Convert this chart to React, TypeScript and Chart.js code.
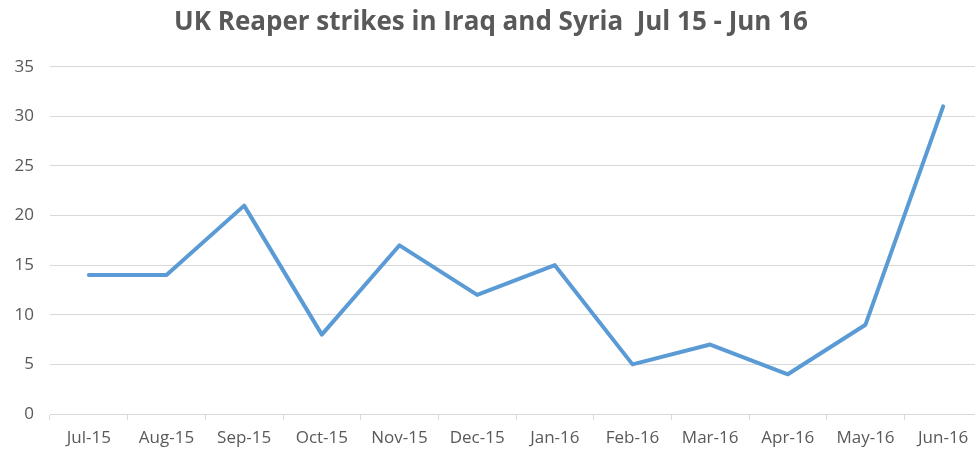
import React, { useEffect, useRef } from "react";
import { Chart, registerables } from "chart.js";

Chart.register(...registerables);

const categories = [
  "Jul-15", "Aug-15", "Sep-15", "Oct-15", "Nov-15", "Dec-15",
  "Jan-16", "Feb-16", "Mar-16", "Apr-16", "May-16", "Jun-16",
];
const strikes = [14, 14, 21, 8, 17, 12, 15, 5, 7, 4, 9, 31];
const yMin = 0;
const yMax = 35;
const yStep = 5;
const titleText = "UK Reaper strikes in Iraq and Syria  Jul 15 - Jun 16";

export default function App() {
  const ref = useRef<HTMLCanvasElement | null>(null);

  useEffect(() => {
    if (!ref.current) return;
    const textColor = "#595959";
    const gridColor = "#d9d9d9";
    const chart = new Chart(ref.current, {
      type: "line",
      data: {
        labels: categories,
        datasets: [
          {
            label: "Strikes",
            data: strikes,
            borderColor: "#5B9BD5",
            backgroundColor: "#5B9BD5",
            borderWidth: 4,
            pointRadius: 0,
            pointHoverRadius: 0,
            tension: 0,
            borderJoinStyle: "round",
            borderCapStyle: "round",
            fill: false,
          },
        ],
      },
      options: {
        animation: false,
        responsive: true,
        maintainAspectRatio: false,
        layout: { padding: { left: 0, right: 0, top: 0, bottom: 0 } },
        plugins: {
          legend: { display: false },
          tooltip: { enabled: false },
          title: {
            display: true,
            text: titleText,
            color: textColor,
            font: { family: "'Open Sans', sans-serif", size: 26, weight: "bold", lineHeight: 1.2 },
            padding: { top: 7, bottom: 28.5 },
          },
        },
        scales: {
          x: {
            type: "category",
            offset: true,
            grid: {
              display: true,
              offset: true,
              drawOnChartArea: false,
              drawTicks: true,
              tickLength: 6,
              color: gridColor,
            },
            border: { display: true, color: gridColor, width: 1 },
            ticks: {
              color: textColor,
              font: { family: "'Open Sans', sans-serif", size: 17 },
              padding: 8,
              maxRotation: 0,
              autoSkip: false,
            },
            afterFit: (scale: any) => {
              scale.height = 36;
            },
          },
          y: {
            min: yMin,
            max: yMax,
            grid: {
              color: gridColor,
              drawTicks: false,
              lineWidth: 1,
            },
            border: { display: false },
            ticks: {
              stepSize: yStep,
              color: textColor,
              font: { family: "'Open Sans', sans-serif", size: 17 },
              padding: 16,
            },
            afterFit: (scale: any) => {
              scale.width = 50;
            },
          },
        },
      },
    });
    return () => chart.destroy();
  }, []);

  return (
    <div style={{ position: "fixed", left: 0, top: 0, width: 982, height: 450, background: "#ffffff" }}>
      <canvas ref={ref} />
    </div>
  );
}
